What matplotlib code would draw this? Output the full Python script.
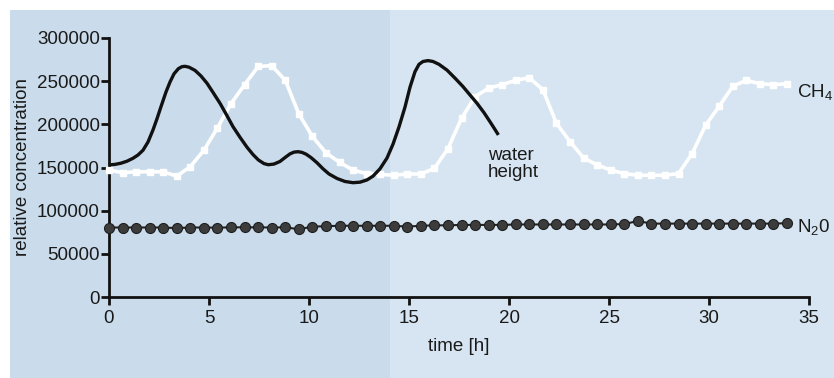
import matplotlib
matplotlib.use("Agg")
import matplotlib.pyplot as plt
from matplotlib.patches import Rectangle
import numpy as np

# ----------------------------------------------------------------------
# Data
# ----------------------------------------------------------------------

# sampling times of the gas measurements [h]
time_gas = np.linspace(0, 33.9, 51)

ch4 = [147000, 144000, 145000, 145000, 145000, 140000, 151000, 170000,
       196000, 224000, 246000, 267000, 268000, 251000, 212000, 186000,
       167000, 156000, 147000, 143000, 142000, 141000, 142500, 142500,
       149000, 172000, 207000, 232000, 242000, 246000, 251000, 254000,
       240000, 201000, 180000, 161000, 153000, 147000, 143000, 141000,
       141000, 141000, 143000, 166000, 199000, 221000, 244000, 251000,
       247000, 246000, 247000]

n2o = [80500, 80500, 80500, 80500, 80500, 79800, 80500, 80500, 80300,
       80700, 80700, 80700, 80500, 80700, 78500, 81500, 82000, 82500,
       82500, 82500, 82500, 82500, 81500, 82500, 83000, 83000, 83500,
       83500, 83500, 83500, 84000, 84000, 84000, 84000, 84000, 84000,
       84000, 84000, 84500, 88000, 85000, 85000, 85000, 85000, 85000,
       85000, 85000, 85000, 85000, 85000, 85500]

time_water = [0.0, 0.3, 0.6, 0.9, 1.2, 1.45, 1.7, 1.95, 2.2, 2.4, 2.6,
              2.85, 3.05, 3.25, 3.47, 3.65, 3.8, 4.0, 4.3, 4.6, 4.9, 5.2,
              5.55, 5.9, 6.2, 6.55, 6.9, 7.2, 7.47, 7.75, 7.97, 8.25,
              8.55, 8.8, 9.05, 9.25, 9.45, 9.65, 9.85, 10.1, 10.4, 10.7,
              11.0, 11.4, 11.8, 12.2, 12.55, 12.9, 13.2, 13.55, 13.9,
              14.2, 14.5, 14.8, 15.05, 15.3, 15.5, 15.7, 15.95, 16.2,
              16.5, 16.9, 17.3, 17.7, 18.05, 18.4, 18.75, 19.05, 19.3,
              19.47]
water = [153000, 153600, 155000, 157300, 160700, 164500, 170000, 179500,
         193500, 206500, 220500, 237500, 249000, 258500, 264500, 266800,
         267200, 266200, 262500, 256000, 247600, 237000, 224400, 210000,
         197300, 185000, 173500, 165000, 158700, 154500, 153200, 154000,
         157000, 161500, 165800, 167800, 168300, 167500, 165500, 161500,
         155500, 148500, 142500, 137300, 133800, 132400, 133000, 135600,
         140000, 148500, 161000, 177000, 197000, 220000, 243000, 261000,
         269500, 272800, 273800, 272800, 269500, 262800, 253500, 243700,
         234000, 224400, 213500, 203000, 194000, 187700]

yticks = [0, 50000, 100000, 150000, 200000, 250000, 300000]
xticks = [0, 5, 10, 15, 20, 25, 30, 35]

# ----------------------------------------------------------------------
# Style
# ----------------------------------------------------------------------

plt.rcParams['font.family'] = ['Liberation Sans', 'DejaVu Sans']
plt.rcParams['mathtext.fontset'] = 'custom'
plt.rcParams['mathtext.rm'] = 'Liberation Sans'
plt.rcParams['mathtext.it'] = 'Liberation Sans'
plt.rcParams['font.size'] = 13

txt_color = '#1a1a1a'

fig = plt.figure(figsize=(8.34, 3.78), dpi=100)
fig.patch.set_facecolor('white')

# blue backgrounds (darker left part, lighter right part)
fig.patches.append(Rectangle((10 / 834, 0), (390 - 10) / 834, 1 - 10 / 378,
                             transform=fig.transFigure, facecolor='#cadcec',
                             edgecolor='none', zorder=-5))
fig.patches.append(Rectangle((390 / 834, 0), 1 - 390 / 834, 1 - 10 / 378,
                             transform=fig.transFigure, facecolor='#d6e5f1',
                             edgecolor='none', zorder=-5))

ax = fig.add_axes([109 / 834, 1 - 297 / 378, 700 / 834, 259 / 378])
ax.set_facecolor('none')
ax.set_zorder(2)

# Lines
ax.plot(time_gas, ch4, color='white', linewidth=2.6, marker='s',
        markersize=4.5, markeredgecolor='white', zorder=3, clip_on=False)
ax.plot(time_gas, n2o, color='#222222', linewidth=1.5, marker='o',
        markersize=7.2, markerfacecolor='#3c3c3c', markeredgecolor='#1e1e1e',
        markeredgewidth=0.8, zorder=4, clip_on=False)
ax.plot(time_water, water, color='#111111', linewidth=2.4, zorder=5,
        solid_capstyle='butt', solid_joinstyle='round', clip_on=False)

# Labels next to lines
ax.text(18.95, 154000, 'water\nheight', fontsize=13.5, color=txt_color,
        ha='left', va='center', linespacing=0.95)
ax.text(34.4, 238000, 'CH$_4$', fontsize=13.5, color=txt_color,
        ha='left', va='center')
ax.text(34.4, 81000, 'N$_2$0', fontsize=13.5, color=txt_color,
        ha='left', va='center')

# Axes
ax.set_xlim(0, 35)
ax.set_ylim(0, 300000)
ax.set_xticks(xticks)
ax.set_yticks(yticks)
ax.set_yticklabels([str(v) for v in yticks])

for side in ['top', 'right']:
    ax.spines[side].set_visible(False)
for side in ['left', 'bottom']:
    ax.spines[side].set_linewidth(2.0)
    ax.spines[side].set_color('#111111')

ax.tick_params(axis='both', direction='out', length=5.5, width=2.0,
               color='#111111', labelcolor=txt_color, labelsize=13.5)
ax.tick_params(axis='y', pad=1)
ax.tick_params(axis='x', pad=4)

ax.set_xlabel('time [h]', fontsize=13.5, color=txt_color, labelpad=8)
ax.set_ylabel('relative concentration', fontsize=13.5, color=txt_color,
              labelpad=4)

plt.savefig('out.png', dpi=100)
plt.close()
